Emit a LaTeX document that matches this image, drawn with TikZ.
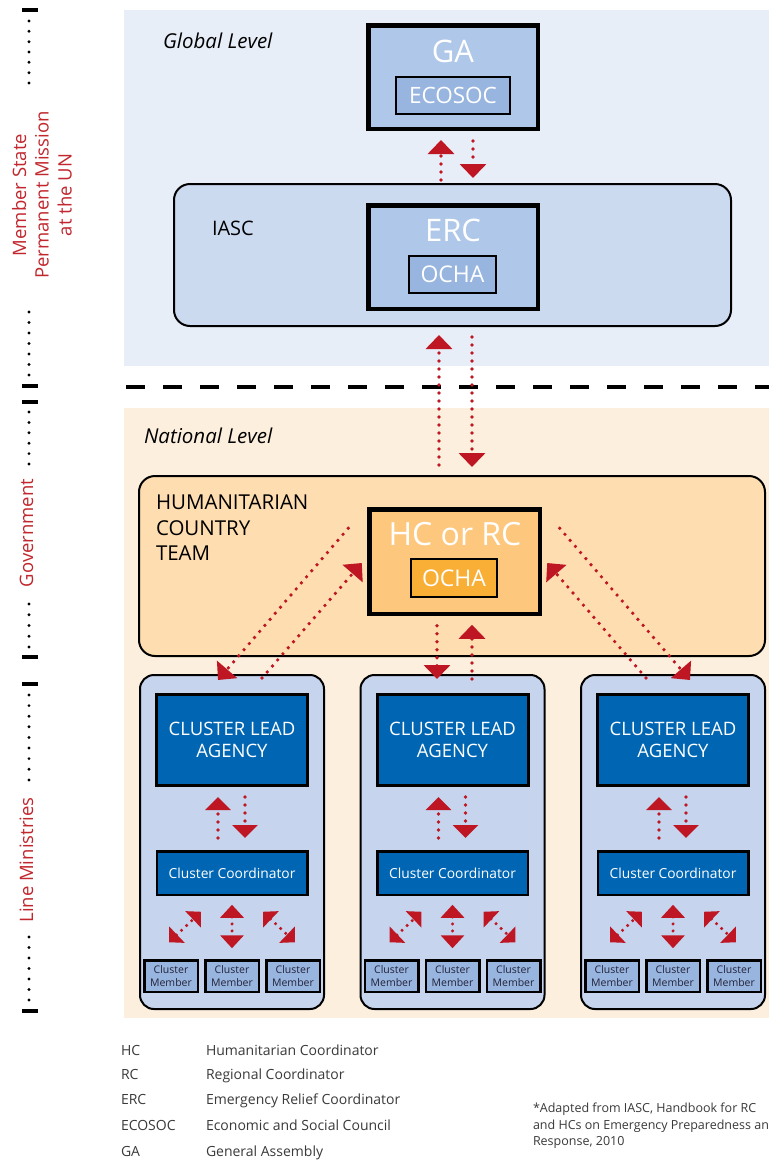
\documentclass[tikz,border=0pt]{standalone}
\usepackage{fontspec}
\setmainfont{Open Sans}
\usetikzlibrary{arrows.meta,calc}
\definecolor{globalbg}{HTML}{E8EEF8}
\definecolor{natbg}{HTML}{FCEFDD}
\definecolor{iascfill}{HTML}{CCDAF0}
\definecolor{gafill}{HTML}{AFC7E8}
\definecolor{gainner}{HTML}{97B5DF}
\definecolor{hctfill}{HTML}{FEDDB0}
\definecolor{hcfill}{HTML}{FDC87D}
\definecolor{hcinner}{HTML}{F9AF36}
\definecolor{colfill}{HTML}{C6D4EE}
\definecolor{clafill}{HTML}{0066B3}
\definecolor{memfill}{HTML}{98B5E0}
\definecolor{memtext}{HTML}{222238}
\definecolor{arrred}{HTML}{BE1622}
\definecolor{sidered}{HTML}{C1272D}
\definecolor{legendgray}{HTML}{3A3A3A}
\newcommand{\myfs}[2]{\fontsize{#1}{#2}\selectfont}
\begin{document}
\begin{tikzpicture}[x=1pt,y=-1pt,
  every node/.style={inner sep=0pt,outer sep=0pt},
  area/.style={rectangle,anchor=north west},
  roundbox/.style={draw=black,line width=2pt,rounded corners=16pt,anchor=north west},
  heavybox/.style={draw=black,line width=4.5pt,anchor=north west},
  smallbox/.style={draw=black,line width=2pt,anchor=north west,text=white},
  bigarr/.style={draw=arrred,line width=3.7pt,line cap=round,dash pattern=on 0pt off 8pt,-{Triangle[width=26pt,length=14pt]}},
  colarr/.style={draw=arrred,line width=3.6pt,line cap=round,dash pattern=on 0pt off 8pt,-{Triangle[width=25pt,length=13pt]}},
  memarr/.style={draw=arrred,line width=3.4pt,line cap=round,dash pattern=on 0pt off 7pt,{Triangle[width=23pt,length=13pt]}-{Triangle[width=23pt,length=13pt]}},
  diagarr/.style={draw=arrred,line width=3.4pt,line cap=round,dash pattern=on 0pt off 7pt,{Triangle[width=22pt,length=11pt]}-{Triangle[width=22pt,length=11pt]}},
  sidetxt/.style={rotate=90,anchor=base,text=sidered,font=\myfs{18.5}{22}},
  sidetick/.style={draw=black,line width=3.4pt},
  legend/.style={anchor=base west,text=legendgray,font=\myfs{14}{17}},
]
\useasboundingbox (0,0) rectangle (769,1160);
\fill[white] (0,0) rectangle (769,1160);

% ---------- panels ----------
\node[area,fill=globalbg,minimum width=645pt,minimum height=356pt] (globalpanel) at (124,10) {};
\node[area,fill=natbg,minimum width=645pt,minimum height=610pt] (nationalpanel) at (124,408) {};
\draw[line width=4pt,dash pattern=on 18.5pt off 18.5pt] (126,387) -- (769,387);

\node[anchor=base west,font=\itshape\myfs{20.5}{24}] (globallabel) at (163,48) {Global Level};
\node[anchor=base west,font=\itshape\myfs{20.5}{24}] (nationallabel) at (144,443) {National Level};

% ---------- global level ----------
\node[heavybox,fill=gafill,minimum width=169.5pt,minimum height=103.5pt] (ga) at (368.25,25.25) {};
\node[anchor=base,text=white,font=\myfs{31}{36}] (gatext) at (453,62) {GA};
\node[smallbox,fill=gainner,minimum width=114pt,minimum height=37pt,font=\myfs{22.5}{27}] (ecosoc) at (396,77) {ECOSOC};

\node[roundbox,fill=iascfill,minimum width=557pt,minimum height=142pt] (iasc) at (174,184) {};
\node[anchor=base west,font=\myfs{20}{24}] (iasctext) at (212,235) {IASC};
\node[heavybox,fill=gafill,minimum width=169.5pt,minimum height=103.5pt] (erc) at (368.25,205.25) {};
\node[anchor=base,text=white,font=\myfs{31}{36}] (erctext) at (453,241) {ERC};
\node[smallbox,fill=gainner,minimum width=87pt,minimum height=37pt,font=\myfs{23}{27}] (ocha1) at (409,256) {OCHA};

% ---------- national level ----------
\node[roundbox,fill=hctfill,minimum width=626pt,minimum height=180pt] (hct) at (139,476) {};
\node[anchor=north west,align=left,font=\myfs{20.5}{25.5}] (hcttext) at (156,495) {HUMANITARIAN\\COUNTRY\\TEAM};
\node[heavybox,fill=hcfill,minimum width=170.5pt,minimum height=104.5pt] (hc) at (369.25,509.25) {};
\node[anchor=base,text=white,font=\myfs{32}{38}] (hctext) at (455,545) {HC or RC};
\node[smallbox,fill=hcinner,minimum width=86pt,minimum height=38pt,font=\myfs{23}{27}] (ocha2) at (411,559) {OCHA};

% ---------- cluster columns ----------
\foreach \c/\cx in {A/232,B/452.5,C/673}{
  \node[roundbox,rounded corners=14pt,fill=colfill,minimum width=184pt,minimum height=334pt,anchor=north] (col\c) at (\cx,675) {};
  \node[draw=black,line width=3pt,fill=clafill,minimum width=151pt,minimum height=91pt,anchor=north,text=white,align=center,font=\myfs{18.5}{22}] (cla\c) at (\cx,694.5) {CLUSTER LEAD\\AGENCY};
  \node[draw=black,line width=2.5pt,fill=clafill,minimum width=150.5pt,minimum height=43.5pt,anchor=north,text=white,font=\myfs{13.8}{16}] (cc\c) at (\cx,851.25) {Cluster Coordinator};
  \foreach \m/\dx in {1/-61,2/0,3/61}{
    \node[draw=black,line width=2.5pt,fill=memfill,minimum width=53.5pt,minimum height=31.5pt,anchor=north,align=center,text=memtext,font=\myfs{10.5}{12.5}] (mem\c\m) at (\cx+\dx,960.25) {Cluster\\Member};
  }
  \draw[colarr] ($(cc\c.north)+(-14,-13.25)$) -- ($(cla\c.south)+(-14,11.5)$);
  \draw[colarr] ($(cla\c.south)+(13,11.5)$) -- ($(cc\c.north)+(13,-13.25)$);
  \draw[diagarr] ($(mem\c1.north)+(-2,-18)$) -- ($(cc\c.south)+(-31,17)$);
  \draw[memarr] ($(cc\c.south)+(0,10)$) -- ($(mem\c2.north)+(0,-12)$);
  \draw[diagarr] ($(cc\c.south)+(31,17)$) -- ($(mem\c3.north)+(2,-18)$);
}

% ---------- main arrows ----------
\draw[bigarr] ($(iasc.north)+(-11.5,-4)$) -- ($(ga.south)+(-12,11.25)$);
\draw[bigarr] ($(ga.south)+(20,12.25)$) -- ($(iasc.north)+(20.5,-6)$);
\draw[bigarr] ($(hct.north)+(-13,-11)$) -- ($(iasc.south)+(-13.5,9)$);
\draw[bigarr] ($(iasc.south)+(19.5,11)$) -- ($(hct.north)+(20,-9)$);
\draw[bigarr] ($(hc.south)+(-17.5,12)$) -- ($(colB.north)+(-15.5,4)$);
\draw[bigarr] ($(colB.north)+(19.5,4)$) -- ($(hc.south)+(17.5,11)$);
\draw[bigarr] ($(hc.north west)+(-21,19)$) -- ($(colA.north)+(-14,5)$);
\draw[bigarr] ($(colA.north)+(30,3)$) -- ($(hc.west)+(-7.5,1.5)$);
\draw[bigarr] ($(hc.north east)+(20,19)$) -- ($(colC.north)+(17,5)$);
\draw[bigarr] ($(colC.north)+(-27,3)$) -- ($(hc.east)+(7.5,1.5)$);

% ---------- side scale ----------
\foreach \y in {10,386,402,657,684,1011} \draw[sidetick] (22,\y) -- (38,\y);
\foreach \y in {21,31.3,41.7,52,62.3,72.7,83,312,322.5,333,343.5,354,364.5,375,412,422.4,432.8,443.2,453.6,464,604,614.75,625.5,636.25,647,695,705.6,716.2,726.8,737.4,748,758.6,769.2,780,937,947.5,958,968.5,979,989.5,1000}
  \fill (29,\y) circle (1.6pt);
\node[sidetxt] (ms1) at (26,195) {Member State};
\node[sidetxt] (ms2) at (48.5,195) {Permanent Mission};
\node[sidetxt] (ms3) at (71.5,195) {at the UN};
\node[sidetxt] (gov) at (33,533) {Government};
\node[sidetxt] (lm) at (33,860) {Line Ministries};

% ---------- legend ----------
\node[legend] (lhc) at (121,1055) {HC};
\node[legend] (lhcd) at (206,1055) {Humanitarian Coordinator};
\node[legend] (lrc) at (121,1079) {RC};
\node[legend] (lrcd) at (206,1079) {Regional Coordinator};
\node[legend] (lerc) at (121,1104) {ERC};
\node[legend] (lercd) at (206,1104) {Emergency Relief Coordinator};
\node[legend] (leco) at (121,1130) {ECOSOC};
\node[legend] (lecod) at (206,1130) {Economic and Social Council};
\node[legend] (lga) at (121,1156) {GA};
\node[legend] (lgad) at (206,1156) {General Assembly};

\node[anchor=base west,text=legendgray,font=\myfs{12.5}{16}] (fn1) at (533,1112) {*Adapted from IASC, Handbook for RC};
\node[anchor=base west,text=legendgray,font=\myfs{12.5}{16}] (fn2) at (533,1129) {and HCs on Emergency Preparedness an};
\node[anchor=base west,text=legendgray,font=\myfs{12.5}{16}] (fn3) at (533,1145) {Response, 2010};
\end{tikzpicture}
\end{document}
